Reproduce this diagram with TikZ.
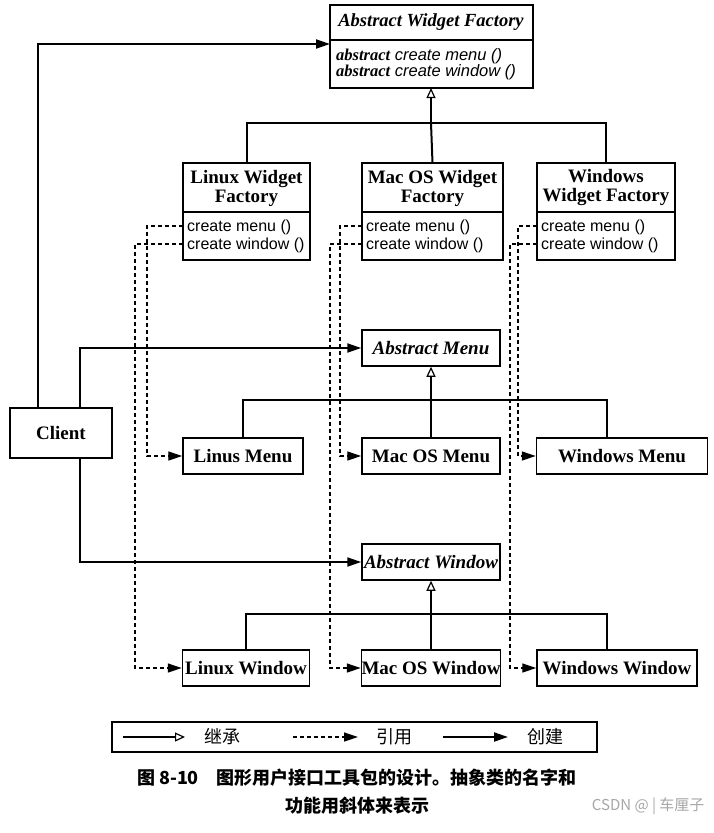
\documentclass[tikz,border=0pt]{standalone}
\usepackage{fontspec}
\setmainfont{Liberation Serif}
\newfontfamily\sss{Liberation Sans}
\newfontfamily\cjk{Noto Sans CJK SC}
\usetikzlibrary{arrows.meta}
\begin{document}
\begin{tikzpicture}[x=1pt,y=-1pt,
 tf/.style={font=\fontsize{19}{19}\selectfont\bfseries},
 bx/.style={draw,line width=1.5pt,minimum height=36pt,inner sep=0pt,tf},
 inh/.style={line width=2pt,-{Triangle[open,length=10pt,width=9pt,line width=1.2pt]}},
 crt/.style={line width=2pt,-{Triangle[length=14pt,width=9pt]}},
 ref/.style={line width=1.3pt,dash pattern=on 4pt off 3pt,-{Triangle[length=14pt,width=9pt]}},
 ln/.style={line width=2pt}]
\useasboundingbox (0,0) rectangle (714,833);
% abstract factory
\draw[line width=1.5pt] (330,5) rectangle (533,88);
\draw[line width=1.2pt] (330,40) -- (533,40);
\node (awf) at (431,22) {\fontsize{18.5}{19}\selectfont\bfseries\itshape Abstract Widget Factory};
\node[align=left,anchor=west,inner sep=0pt] (awfm) at (336,64) {\fontsize{16.5}{19}\selectfont\sss\itshape\textbf{\rmfamily abstract} create menu ()\\\fontsize{16.5}{19}\selectfont\sss\itshape\textbf{\rmfamily abstract} create window ()};
\coordinate (awfb) at (431,88);
% concrete factories
\foreach \n/\xa/\xb/\t in {lf/183/310/Linux Widget\\Factory, mf/362/503/Mac OS Widget\\Factory, wf/537/675/Windows\\Widget Factory}{
 \draw[line width=1.5pt] (\xa,163) rectangle (\xb,260);
 \draw[line width=1.2pt] (\xa,212) -- (\xb,212);
 \node[align=center,tf] (\n) at ({(\xa+\xb)/2},188) {\t};
 \node[align=left,anchor=west,inner sep=0pt,font=\fontsize{16}{18}\selectfont\sss] (\n m) at (\xa+4,236) {create menu ()\\create window ()};
 \coordinate (\n T) at ({(\xa+\xb)/2},163);
}
\draw[ln] (lfT) |- (431,123) -| (wfT);
\draw[ln] (mfT) -- (431,123);
\draw[inh] (431,123) -- (awfb);
% client
\node[bx,minimum width=102pt,minimum height=50pt] (cl) at (61,433) {Client};
% abstract menu / window
\node[bx,minimum width=138pt,font=\fontsize{19}{19}\selectfont\bfseries\itshape] (am) at (431,348) {Abstract Menu};
\node[bx,minimum width=138pt,font=\fontsize{19}{19}\selectfont\bfseries\itshape] (aw) at (431,562) {Abstract Window};
% products
\node[bx,minimum width=120pt] (lm) at (243,456) {Linus Menu};
\node[bx,minimum width=138pt] (mm) at (431,456) {Mac OS Menu};
\node[bx,minimum width=171pt] (wm) at (622,456) {Windows Menu};
\node[bx,minimum width=127pt] (lw) at (246,668) {Linux Window};
\node[bx,minimum width=138pt] (mw) at (431,668) {Mac OS Window};
\node[bx,minimum width=160pt] (ww) at (617,668) {Windows Window};
\draw[ln] (lm.north) |- (431,400) -| (607,438);
\draw[inh] (mm.north) -- (am.south);
\draw[ln] (lw.north) |- (431,614) -| (607,650);
\draw[inh] (mw.north) -- (aw.south);
% client arrows
\draw[crt] (cl.north -| 38,0) |- (330,44);
\draw[crt] (cl.north -| 80,0) |- (am.west);
\draw[crt] (cl.south -| 80,0) |- (aw.west);
% dashed references
\draw[ref] (183,226) -| (147,456) -- (lm.west);
\draw[ref] (183,244) -| (135,668) -- (lw.west);
\draw[ref] (362,226) -| (340,456) -- (mm.west);
\draw[ref] (362,244) -| (330,668) -- (mw.west);
\draw[ref] (537,226) -| (518,456) -- (wm.west);
\draw[ref] (537,244) -| (510,668) -- (ww.west);
% legend
\draw[line width=1.5pt] (112,722) rectangle (597,752);
\draw[inh] (123,737) -- (185,737);
\node[font=\cjk\fontsize{18}{18}\selectfont] (l1) at (222,737) {继承};
\draw[ref] (293,737) -- (358,737);
\node[font=\cjk\fontsize{18}{18}\selectfont] (l2) at (394,737) {引用};
\draw[crt] (443,737) -- (508,737);
\node[font=\cjk\fontsize{18}{18}\selectfont] (l3) at (545,737) {创建};
% caption
\node[font=\cjk\bfseries\fontsize{18}{18}\selectfont] (c1) at (357,778) {图 8-10\quad 图形用户接口工具包的设计。抽象类的名字和};
\node[font=\cjk\bfseries\fontsize{18}{18}\selectfont] (c2) at (357,806) {功能用斜体来表示};
\node[font=\cjk\fontsize{15}{16}\selectfont,text=gray!70,anchor=east] (wm2) at (708,806) {CSDN @ | 车厘子};
\end{tikzpicture}
\end{document}
